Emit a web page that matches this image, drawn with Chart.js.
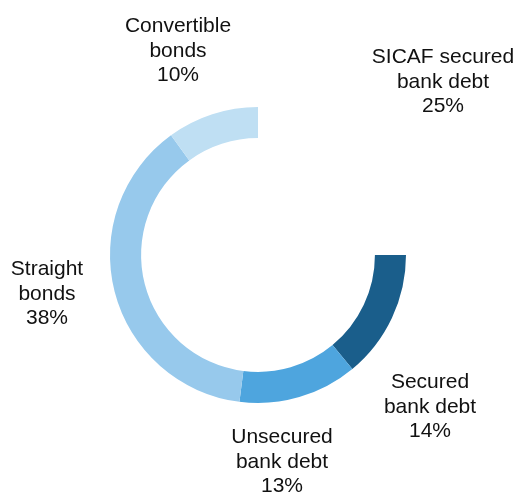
<!DOCTYPE html>
<html>
<head>
<meta charset="utf-8">
<script src="https://cdn.jsdelivr.net/npm/chart.js@4"></script>
<style>
    html, body { margin: 0; padding: 0; background: #fff; }
    #wrap { width: 520px; height: 493px; }
</style>
</head>
<body>
<div id="wrap"><canvas id="debtChart" width="520" height="493"></canvas></div>
<script>
// debt breakdown, clockwise from 12 o'clock
const categories = ["SICAF secured bank debt", "Secured bank debt", "Unsecured bank debt", "Straight bonds", "Convertible bonds"];
const labelLines = [["SICAF secured", "bank debt"], ["Secured", "bank debt"], ["Unsecured", "bank debt"], ["Straight", "bonds"], ["Convertible", "bonds"]];
const shares = [25, 14, 13, 38, 10];
const sliceColors = ["rgba(0,0,0,0)", "#1a5e8b", "#4ea5de", "#97c9ec", "#bfdff3"];

// label anchors relative to the ring centre: [dx, first baseline dy]
const labelOffsets = [[185, -192], [172, 133], [24, 188], [-211, 20], [-80, -223]];

const labelPlugin = {
    id: "sliceLabels",
    afterDraw(chart) {
        const ctx = chart.ctx;
        const arc = chart.getDatasetMeta(0).data[0];
        const cx = arc.x, cy = arc.y;
        ctx.save();
        ctx.font = "21px 'Liberation Sans', Arial, sans-serif";
        ctx.fillStyle = "#111";
        ctx.textAlign = "center";
        ctx.textBaseline = "alphabetic";
        shares.forEach((v, i) => {
            const lines = labelLines[i].concat([v + "%"]);
            const x = cx + labelOffsets[i][0];
            let y = cy + labelOffsets[i][1];
            lines.forEach(line => {
                ctx.fillText(line, x, y);
                y += 24.5;
            });
        });
        ctx.restore();
    }
};

const ctx = document.getElementById("debtChart").getContext("2d");
new Chart(ctx, {
    type: "doughnut",
    data: {
        labels: categories,
        datasets: [{
            data: shares,
            backgroundColor: sliceColors,
            borderWidth: 0,
            hoverOffset: 0
        }]
    },
    options: {
        responsive: false,
        animation: false,
        cutout: "79%",
        layout: { padding: { left: 110, right: 114, top: 107, bottom: 90 } },
        plugins: {
            legend: { display: false },
            tooltip: { enabled: false }
        },
        events: []
    },
    plugins: [labelPlugin]
});
</script>
</body>
</html>
